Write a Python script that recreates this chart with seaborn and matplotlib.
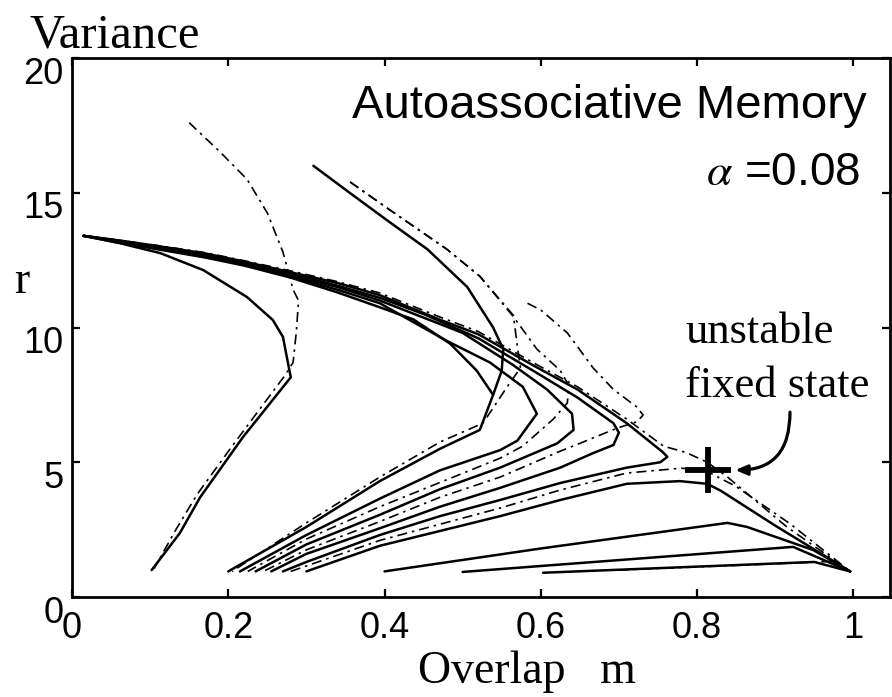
import numpy as np
import pandas as pd
import matplotlib
matplotlib.use("Agg")
import matplotlib.pyplot as plt
import matplotlib.transforms as mtrans
import seaborn as sns

# ---------------- data (overlap m, variance r) ----------------
# left loop
loop_m = [0.102, 0.138, 0.164, 0.219, 0.28, 0.275, 0.270, 0.257, 0.224, 0.168, 0.113, 0.061, 0.015]
loop_r = [1.0, 2.37, 3.7, 5.94, 8.15, 8.9, 9.65, 10.28, 11.13, 12.13, 12.76, 13.13, 13.4]
loop_dd_m = [0.15, 0.19, 0.224, 0.25, 0.27, 0.283, 0.29, 0.287, 0.283, 0.272, 0.205, 0.16, 0.133, 0.105]
loop_dd_r = [17.6, 16.5, 15.5, 14.25, 12.8, 11.4, 11.0, 9.8, 8.7, 8.2, 5.6, 3.8, 2.5, 1.05]

# trajectories through the bundle to the spurious state
s1_m = [0.20, 0.30, 0.394, 0.471, 0.522, 0.539, 0.518, 0.484, 0.437, 0.394, 0.34, 0.28, 0.22, 0.17, 0.11, 0.06, 0.015]
s1_r = [0.95, 2.6, 4.3, 5.5, 6.2, 7.5, 8.4, 9.4, 10.3, 10.75, 11.3, 11.85, 12.3, 12.6, 12.9, 13.15, 13.4]
s2_m = [0.215, 0.30, 0.394, 0.471, 0.548, 0.57, 0.595, 0.577, 0.535, 0.48, 0.394, 0.34, 0.28, 0.22, 0.17, 0.11, 0.06, 0.015]
s2_r = [0.95, 2.3, 3.65, 4.7, 5.45, 5.8, 6.8, 7.8, 8.7, 9.5, 10.9, 11.4, 11.9, 12.35, 12.65, 12.95, 13.2, 13.4]
s3_m = [0.235, 0.30, 0.394, 0.471, 0.548, 0.621, 0.642, 0.64, 0.608, 0.565, 0.50, 0.394, 0.34, 0.28, 0.22, 0.17, 0.11, 0.06, 0.015]
s3_r = [0.95, 1.95, 3.05, 4.0, 4.8, 5.7, 6.2, 6.8, 7.7, 8.6, 9.8, 11.0, 11.5, 11.95, 12.4, 12.7, 12.97, 13.2, 13.4]
s4_m = [0.255, 0.30, 0.394, 0.471, 0.548, 0.625, 0.667, 0.693, 0.70, 0.693, 0.647, 0.59, 0.52, 0.45, 0.394, 0.34, 0.28, 0.22, 0.17, 0.11, 0.06, 0.015]
s4_r = [0.95, 1.6, 2.55, 3.35, 4.05, 4.8, 5.34, 5.64, 6.1, 6.45, 7.4, 8.4, 9.6, 10.5, 11.1, 11.55, 12.0, 12.42, 12.72, 13.0, 13.22, 13.4]
s5_m = [0.27, 0.30, 0.394, 0.471, 0.548, 0.625, 0.71, 0.753, 0.762, 0.756, 0.71, 0.647, 0.59, 0.52, 0.47, 0.394, 0.34, 0.28, 0.22, 0.17, 0.11, 0.06, 0.015]
s5_r = [0.95, 1.3, 2.3, 3.0, 3.6, 4.23, 4.8, 5.0, 5.2, 5.38, 6.45, 7.7, 8.6, 9.75, 10.3, 11.2, 11.65, 12.05, 12.45, 12.75, 13.02, 13.23, 13.4]

# trajectories reaching the retrieval state (m=1)
s6_m = [0.30, 0.394, 0.471, 0.548, 0.625, 0.71, 0.778, 0.813, 0.83, 0.90, 0.996]
s6_r = [0.95, 1.9, 2.45, 3.0, 3.6, 4.2, 4.3, 4.2, 3.95, 2.65, 0.95]
b1_m = [0.40, 0.60, 0.839, 0.864, 0.949, 0.996]
b1_r = [0.95, 1.8, 2.75, 2.6, 1.74, 0.95]
b2_m = [0.50, 0.923, 0.996]
b2_r = [0.93, 1.86, 0.95]
b3_m = [0.603, 0.95, 0.996]
b3_r = [0.90, 1.3, 0.95]

# trajectories starting at high variance (top)
t1_m = [0.309, 0.36, 0.407, 0.455, 0.506, 0.539, 0.552, 0.55, 0.539]
t1_r = [16.0, 14.9, 13.9, 12.9, 11.5, 10.0, 9.2, 8.4, 7.5]
d1_m = [0.356, 0.40, 0.44, 0.48, 0.522, 0.565, 0.57, 0.574, 0.557, 0.526, 0.471, 0.394, 0.30, 0.205]
d1_r = [15.4, 14.5, 13.7, 12.9, 11.9, 10.45, 9.3, 8.5, 7.8, 6.45, 5.75, 4.45, 2.75, 0.95]
d2_m = [0.356, 0.40, 0.44, 0.48, 0.522, 0.565, 0.595, 0.625, 0.636, 0.634, 0.616, 0.577, 0.548, 0.471, 0.394, 0.30, 0.225]
d2_r = [15.4, 14.5, 13.7, 12.9, 11.9, 10.4, 9.2, 8.4, 7.85, 7.2, 6.6, 5.6, 5.15, 4.25, 3.35, 2.15, 0.95]
d3_m = [0.583, 0.60, 0.634, 0.667, 0.693, 0.723, 0.731, 0.723, 0.698, 0.65, 0.624, 0.548, 0.471, 0.394, 0.30, 0.245]
d3_r = [10.9, 10.65, 9.8, 8.5, 7.7, 7.05, 6.75, 6.5, 6.27, 5.7, 5.4, 4.45, 3.7, 2.8, 1.75, 0.95]
d4_m = [0.015, 0.06, 0.11, 0.17, 0.22, 0.28, 0.34, 0.394, 0.47, 0.52, 0.59, 0.647, 0.71, 0.757, 0.787, 0.813, 0.839, 0.915, 0.996]
d4_r = [13.4, 13.24, 13.04, 12.78, 12.48, 12.1, 11.7, 11.28, 10.4, 9.85, 8.7, 7.8, 6.6, 5.6, 5.35, 5.0, 4.45, 2.6, 0.95]
d5_m = [0.28, 0.394, 0.471, 0.548, 0.625, 0.71, 0.78, 0.81, 0.85, 0.92, 0.996]
d5_r = [0.95, 2.1, 2.7, 3.3, 3.97, 4.6, 4.78, 4.7, 4.1, 2.7, 0.95]
db_m = [0.70, 0.864, 0.97, 0.996]
db_r = [1.0, 1.19, 1.32, 0.95]

fixed_m = [0.814]
fixed_r = [4.71]

x_ticks = [0, 0.2, 0.4, 0.6, 0.8, 1]
x_labels = ["0", "0.2", "0.4", "0.6", "0.8", "1"]
y_ticks = [0, 5, 10, 15, 20]
y_labels = ["0", "5", "10", "15", "20"]

curves = [
    ("loop", "solid", loop_m, loop_r), ("loop_dd", "dashdot", loop_dd_m, loop_dd_r),
    ("s1", "solid", s1_m, s1_r), ("s2", "solid", s2_m, s2_r), ("s3", "solid", s3_m, s3_r),
    ("s4", "solid", s4_m, s4_r), ("s5", "solid", s5_m, s5_r), ("s6", "solid", s6_m, s6_r),
    ("b1", "solid", b1_m, b1_r), ("b2", "solid", b2_m, b2_r), ("b3", "solid", b3_m, b3_r),
    ("t1", "solid", t1_m, t1_r),
    ("d1", "dashdot", d1_m, d1_r), ("d2", "dashdot", d2_m, d2_r), ("d3", "dashdot", d3_m, d3_r),
    ("d4", "dashdot", d4_m, d4_r), ("d5", "dashdot", d5_m, d5_r), ("db", "dashdot", db_m, db_r),
]

rows = []
for name, kind, ms, rs in curves:
    for i, (mv, rv) in enumerate(zip(ms, rs)):
        rows.append({"traj": name, "kind": kind, "order": i, "m": mv, "r": rv})
df = pd.DataFrame(rows)

# ---------------- style ----------------
sns.set_style("ticks", {"xtick.direction": "in", "ytick.direction": "in",
                        "axes.edgecolor": "black", "text.color": "black",
                        "axes.labelcolor": "black", "xtick.color": "black",
                        "ytick.color": "black"})
plt.rcParams["font.family"] = ["Liberation Sans", "DejaVu Sans"]
plt.rcParams["mathtext.fontset"] = "stix"
plt.rcParams["text.color"] = "black"

fig = plt.figure(figsize=(8.92, 6.97), dpi=100)
ax = fig.add_axes([72 / 892, 1 - 597 / 697, (890 - 72) / 892, (597 - 58) / 697])

sns.lineplot(data=df, x="m", y="r", units="traj", estimator=None, sort=False,
             style="kind", dashes={"solid": "", "dashdot": (6, 3, 1.5, 3)},
             size="kind", sizes={"solid": 1.8, "dashdot": 1.2},
             color="black", legend=False, ax=ax)

ax.plot(fixed_m, fixed_r, marker="+", ms=33, mew=4.2, color="black", ls="none")

ax.annotate("", xy=(0.849, 4.71), xytext=(0.919, 6.86),
            arrowprops=dict(arrowstyle="-|>,head_length=0.7,head_width=0.3",
                            connectionstyle="angle3,angleA=90,angleB=0",
                            lw=2.3, color="black", shrinkA=0, shrinkB=0))

ax.set_xlim(0, 1.047)
ax.set_ylim(0, 20)
ax.set_xticks(x_ticks)
ax.set_xticklabels(x_labels)
ax.set_yticks(y_ticks)
ax.set_yticklabels(y_labels)
ax.set_xlabel("")
ax.set_ylabel("")
for sp in ax.spines.values():
    sp.set_linewidth(2.0)
    sp.set_color("black")
ax.tick_params(which="both", direction="in", top=True, right=True,
               length=6, width=1.6, labelsize=26, colors="black",
               labelcolor="black")
ax.tick_params(axis="x", pad=10)
ax.tick_params(axis="y", pad=6)

serif = ["Liberation Serif", "DejaVu Serif"]
ax.text(1.017, 17.77, "Autoassociative Memory", ha="right", va="baseline",
        fontsize=34, color="black", family=["Liberation Sans", "DejaVu Sans"])
ax.text(1.009, 15.29, r"$\alpha$ =0.08", ha="right", va="baseline",
        fontsize=33, color="black", family=["Liberation Sans", "DejaVu Sans"])
ax.text(0.785, 9.42, "unstable", ha="left", va="baseline", fontsize=32,
        color="black", family=serif)
ax.text(0.785, 7.42, "fixed state", ha="left", va="baseline", fontsize=32,
        color="black", family=serif)

fig.text(30 / 892, 1 - 47 / 697, "Variance", ha="left", va="baseline", fontsize=35,
         color="black", family=serif)
fig.text(14 / 892, 1 - 293 / 697, "r", ha="left", va="baseline", fontsize=33,
         color="black", family=serif)
fig.text(418 / 892, 1 - 683 / 697, "Overlap   m", ha="left", va="baseline", fontsize=33,
         color="black", family=serif)

# y tick labels hang from their ticks
offset = mtrans.ScaledTranslation(0, 1 / 72, fig.dpi_scale_trans)
for lbl in ax.get_yticklabels():
    lbl.set_verticalalignment("top")
    lbl.set_transform(lbl.get_transform() + offset)

fig.savefig("out.png", dpi=100, facecolor="white")
